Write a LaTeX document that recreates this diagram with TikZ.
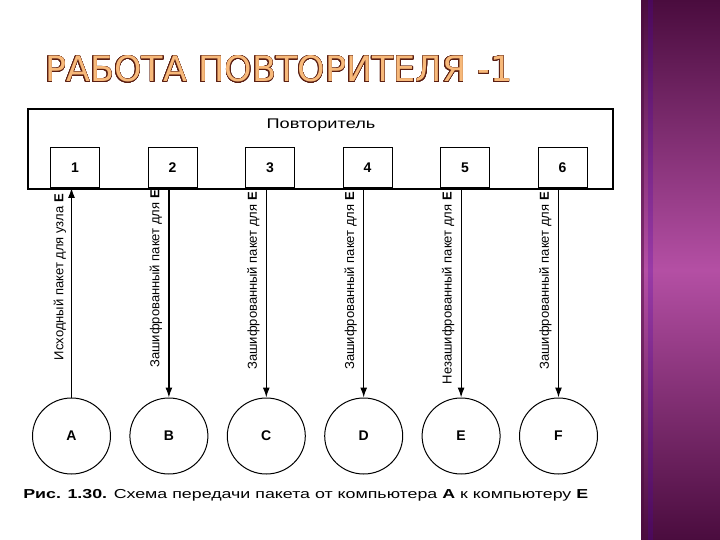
\documentclass[tikz,border=0pt]{standalone}
\usepackage{fontspec}
\setmainfont{Liberation Sans}
\newfontfamily\titlefont{DejaVu Sans}
\usepackage[copies]{contour}
\contourlength{0.5pt}
\contournumber{24}
\usetikzlibrary{arrows.meta,shapes.geometric}
\definecolor{barDark}{HTML}{4A0C3E}
\definecolor{barMid}{HTML}{B44FA4}
\definecolor{titleFill}{HTML}{F7B97A}
\definecolor{titleLine}{HTML}{5A1E12}
\begin{document}
\begin{tikzpicture}[x=1pt,y=-1pt,
  port/.style={draw,line width=0.9pt,minimum width=49pt,minimum height=40pt,inner sep=0pt,anchor=south,font=\fontsize{14}{16}\selectfont\bfseries},
  host/.style={draw,ellipse,line width=1pt,minimum width=78pt,minimum height=76pt,inner sep=0pt,font=\fontsize{14}{16}\selectfont\bfseries},
  vlab/.style={rotate=90,anchor=east,inner sep=0pt,font=\fontsize{13}{15}\selectfont},
  link/.style={line width=1.2pt},
  tip/.style={-{Latex[length=10pt,width=7pt]}}
]
\useasboundingbox (0,0) rectangle (720,540);
\fill[white] (0,0) rectangle (720,540);
% purple side bar
\shade[top color=barDark,bottom color=barDark,middle color=barMid,shading=axis] (641,0) rectangle (720,540);
\fill[barDark,opacity=0.5] (641,0) rectangle (644,540);
\fill[violet!60!blue,opacity=0.25] (648,0) rectangle (653,540);
% title
\node[anchor=base west,inner sep=0pt,font=\titlefont\fontsize{35}{40}\selectfont,text=titleFill] (title) at (45,82) {\contour{titleLine}{РАБОТА ПОВТОРИТЕЛЯ -1}};
% repeater
\node[draw,line width=1.6pt,minimum width=585pt,minimum height=80pt,anchor=north west,inner sep=0pt] (rep) at (27,108) {};
\node[xscale=1.3,font=\fontsize{14}{16}\selectfont] (reptext) at (321,125) {Повторитель};
\foreach \i/\n in {0/1,1/2,2/3,3/4,4/5,5/6}{
  \node[port] (p\n) at ({75+97.5*\i},188) {\n};
}
% hosts
\foreach \i/\n in {0/A,1/B,2/C,3/D,4/E,5/F}{
  \node[host] (\n) at ({71.5+97.4*\i},436) {\n};
}
% connectors
\draw[link,tip] (A.north) -- (p1.south -| A);
\draw[link,tip] (p2.south -| B) -- (B.north);
\draw[link,tip] (p3.south -| C) -- (C.north);
\draw[link,tip] (p4.south -| D) -- (D.north);
\draw[link,tip] (p5.south -| E) -- (E.north);
\draw[link,tip] (p6.south -| F) -- (F.north);
% labels
\node[vlab] (l1) at ([xshift=-11.5pt]A.center |- 0,194) {Исходный пакет для узла \textbf{E}};
\node[vlab] (l2) at ([xshift=-13pt]B.center |- 0,190) {Зашифрованный пакет для \textbf{E}};
\node[vlab] (l3) at ([xshift=-13pt]C.center |- 0,192) {Зашифрованный пакет для \textbf{E}};
\node[vlab] (l4) at ([xshift=-13pt]D.center |- 0,192) {Зашифрованный пакет для \textbf{E}};
\node[vlab] (l5) at ([xshift=-13pt]E.center |- 0,192) {Незашифрованный пакет для \textbf{E}};
\node[vlab] (l6) at ([xshift=-13pt]F.center |- 0,192) {Зашифрованный пакет для \textbf{E}};
% caption
\node[anchor=base west,inner sep=0pt,xscale=1.37,font=\fontsize{13}{15}\selectfont] (cap) at (23,498) {\textbf{Рис. 1.30.} Схема передачи пакета от компьютера \textbf{A} к компьютеру \textbf{E}};
\end{tikzpicture}
\end{document}
